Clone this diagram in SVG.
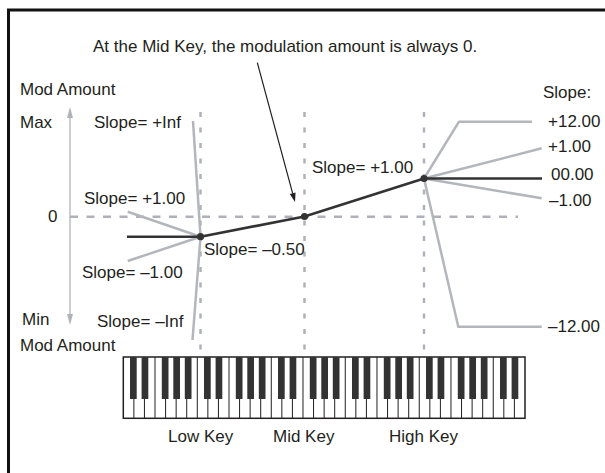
<svg xmlns="http://www.w3.org/2000/svg" width="605" height="473" viewBox="0 0 605 473">
<style>
text{font-family:"Liberation Sans",Arial,sans-serif;font-size:17px;fill:#231f20}
.g{fill:none;stroke:#b3b6bb;stroke-width:2.5;stroke-linejoin:round}
.d{fill:none;stroke:#333;stroke-width:2.6;stroke-linejoin:round}
.vd{fill:none;stroke:#aeb2b8;stroke-width:2.5;stroke-dasharray:5 10.5}
.hd{fill:none;stroke:#aeb2b8;stroke-width:2.5;stroke-dasharray:8 8.5}
.dot{fill:#333}
.bk{fill:#333}
</style>
<rect x="0" y="0" width="605" height="473" fill="#fff"/>
<rect id="frame" x="8.5" y="10" width="620" height="490" fill="none" stroke="#111" stroke-width="3"/>

<g id="axis">
<line x1="70" y1="116" x2="70" y2="316" stroke="#b0b4ba" stroke-width="1.3"/>
<polygon points="70,107 73,118 67,118" fill="#b0b4ba"/>
<polygon points="70,325 73,314 67,314" fill="#b0b4ba"/>
</g>

<g id="guides">
<line class="hd" x1="70" y1="216.7" x2="518" y2="216.7"/>
<line class="vd" x1="200.5" y1="112" x2="200.5" y2="355"/>
<line class="vd" x1="304.5" y1="112" x2="304.5" y2="355"/>
<line class="vd" x1="424" y1="112" x2="424" y2="355"/>
</g>

<g id="connectors">
<polyline class="g" points="127.7,211.7 200.5,236.7"/>
<polyline class="g" points="127.7,261 200.5,236.7"/>
<polyline class="g" points="193,121 200.5,236.7 192.5,340"/>
<polyline class="g" points="532,121.7 459,121.7 424,178.5 458.3,326.7 541.7,326.7"/>
<polyline class="g" points="541.7,148.3 424,178.5 541.7,198.3"/>
<polyline class="d" points="127,236.7 200.5,236.7 304.5,216.5 424,178.5 542,178.5"/>
<line x1="257.3" y1="62.7" x2="292.65" y2="193.3" stroke="#231f20" stroke-width="1.2"/>
<polygon points="295,202 295.55,192.5 289.75,194.1" fill="#231f20"/>
</g>

<g id="points">
<circle class="dot" cx="200.5" cy="236.7" r="3.6"/>
<circle class="dot" cx="304.5" cy="216.5" r="3.6"/>
<circle class="dot" cx="424" cy="178.5" r="3.6"/>
</g>

<g id="labels">
<text x="93" y="52">At the Mid Key, the modulation amount is always 0.</text>
<text x="20" y="95">Mod Amount</text>
<text x="20" y="128">Max</text>
<text x="94" y="128">Slope= +Inf</text>
<text x="543" y="98">Slope:</text>
<text x="548" y="127">+12.00</text>
<text x="548" y="152">+1.00</text>
<text x="312" y="173">Slope= +1.00</text>
<text x="551" y="180">00.00</text>
<text x="84" y="204">Slope= +1.00</text>
<text x="549" y="206">–1.00</text>
<text x="48" y="222">0</text>
<text x="204" y="255">Slope= –0.50</text>
<text x="82" y="278">Slope= –1.00</text>
<text x="22" y="325">Min</text>
<text x="97" y="327">Slope= –Inf</text>
<text x="548" y="332">–12.00</text>
<text x="20" y="351">Mod Amount</text>
<text x="168" y="442">Low Key</text>
<text x="273" y="442">Mid Key</text>
<text x="389" y="442">High Key</text>
</g>

<g id="keyboard">
<rect x="123.3" y="357" width="401.7" height="61.3" fill="#fff" stroke="#231f20" stroke-width="1.5"/>
<path fill="none" stroke="#231f20" stroke-width="1" d="M133.87 357V418.3M144.44 357V418.3M155.01 357V418.3M165.58 357V418.3M176.15 357V418.3M186.72 357V418.3M197.29 357V418.3M207.86 357V418.3M218.43 357V418.3M229 357V418.3M239.57 357V418.3M250.14 357V418.3M260.71 357V418.3M271.28 357V418.3M281.85 357V418.3M292.42 357V418.3M302.99 357V418.3M313.56 357V418.3M324.13 357V418.3M334.7 357V418.3M345.27 357V418.3M355.84 357V418.3M366.41 357V418.3M376.98 357V418.3M387.55 357V418.3M398.12 357V418.3M408.69 357V418.3M419.26 357V418.3M429.83 357V418.3M440.4 357V418.3M450.97 357V418.3M461.54 357V418.3M472.11 357V418.3M482.68 357V418.3M493.25 357V418.3M503.82 357V418.3M514.39 357V418.3"/>
<g class="bk">
<rect x="130" y="357" width="6.7" height="42"/><rect x="141.6" y="357" width="6.7" height="42"/><rect x="161.8" y="357" width="6.7" height="42"/><rect x="173.3" y="357" width="6.7" height="42"/><rect x="184.8" y="357" width="6.7" height="42"/>
<rect x="204" y="357" width="6.7" height="42"/><rect x="215.6" y="357" width="6.7" height="42"/><rect x="235.8" y="357" width="6.7" height="42"/><rect x="247.3" y="357" width="6.7" height="42"/><rect x="258.8" y="357" width="6.7" height="42"/>
<rect x="278" y="357" width="6.7" height="42"/><rect x="289.6" y="357" width="6.7" height="42"/><rect x="309.8" y="357" width="6.7" height="42"/><rect x="321.3" y="357" width="6.7" height="42"/><rect x="332.8" y="357" width="6.7" height="42"/>
<rect x="352" y="357" width="6.7" height="42"/><rect x="363.6" y="357" width="6.7" height="42"/><rect x="383.8" y="357" width="6.7" height="42"/><rect x="395.3" y="357" width="6.7" height="42"/><rect x="406.8" y="357" width="6.7" height="42"/>
<rect x="426" y="357" width="6.7" height="42"/><rect x="437.6" y="357" width="6.7" height="42"/><rect x="457.8" y="357" width="6.7" height="42"/><rect x="469.3" y="357" width="6.7" height="42"/><rect x="480.8" y="357" width="6.7" height="42"/>
<rect x="500" y="357" width="6.7" height="42"/><rect x="511.6" y="357" width="6.7" height="42"/>
</g>
</g>
</svg>
